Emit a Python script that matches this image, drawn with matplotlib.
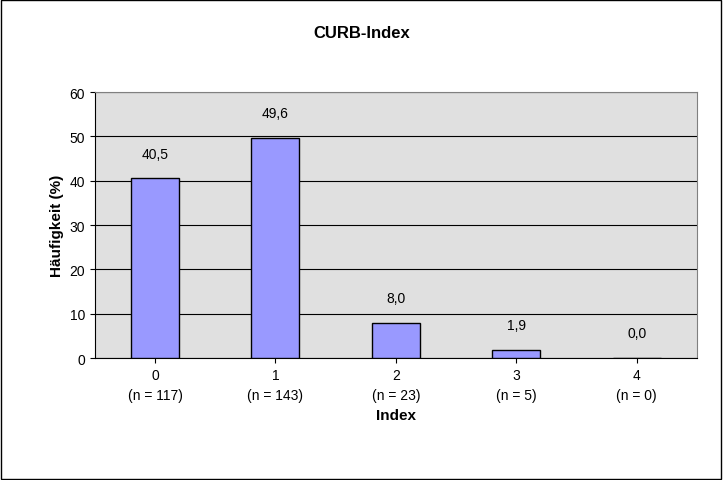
import matplotlib
matplotlib.use("Agg")
import matplotlib.pyplot as plt
from matplotlib.patches import Rectangle

categories = ["0\n(n = 117)", "1\n(n = 143)", "2\n(n = 23)", "3\n(n = 5)", "4\n(n = 0)"]
values = [40.5, 49.6, 8.0, 1.9, 0.0]
labels = ["40,5", "49,6", "8,0", "1,9", "0,0"]

plt.rcParams["font.family"] = "Liberation Sans"
fig = plt.figure(figsize=(7.23, 4.81), dpi=100)
fig.patches.append(Rectangle((0.002, 0.003), 0.995, 0.994, transform=fig.transFigure,
                             fill=False, edgecolor="black", lw=1))
ax = fig.add_axes([0.131, 0.2536, 0.833, 0.553])
ax.set_facecolor("#E0E0E0")
x = range(len(values))
ax.bar(x, values, width=0.4, color="#9999FF", edgecolor="black", lw=1, zorder=3)
for xi, v, l in zip(x, values, labels):
    ax.text(xi, v + 4, l, ha="center", va="bottom", fontsize=10)
ax.set_xlim(-0.5, 4.5)
ax.set_ylim(0, 60)
ax.set_yticks(range(0, 61, 10))
ax.yaxis.grid(True, color="black", lw=0.8, zorder=0)
ax.set_xticks(list(x))
ax.set_xticklabels(categories, fontsize=10, linespacing=1.6)
ax.tick_params(axis="y", labelsize=10)
for s in ["top", "right"]:
    ax.spines[s].set_color("#808080")
ax.set_xlabel("Index", fontsize=11, fontweight="bold")
ax.set_ylabel("Häufigkeit (%)", fontsize=11, fontweight="bold")
fig.suptitle("CURB-Index", x=0.5, y=0.945, fontsize=12, fontweight="bold")
fig.savefig("out.png", dpi=100)
